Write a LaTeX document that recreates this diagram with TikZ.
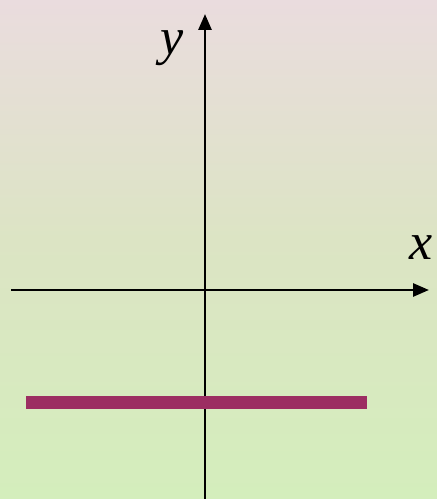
\documentclass[tikz,border=0pt]{standalone}
\usepackage{fontspec}
\setmainfont{Liberation Serif}
\usetikzlibrary{arrows.meta}
\definecolor{bgtop}{HTML}{EADCDE}
\definecolor{bgmid}{HTML}{DCE4C4}
\definecolor{bgbot}{HTML}{D4EEBC}
\definecolor{barcol}{HTML}{9C2E62}
\tikzset{
  axis/.style={line width=2.8pt, black, -{Triangle[length=16pt,width=13pt]}},
  barline/.style={line width=13pt, barcol},
  axlabel/.style={font=\itshape\fontsize{52}{52}\selectfont, inner sep=0pt}
}
\begin{document}
\begin{tikzpicture}[x=1pt,y=1pt]
  \useasboundingbox (0,0) rectangle (437,499);
  \shade[top color=bgtop, bottom color=bgmid] (0,499) rectangle (437,260);
  \shade[top color=bgmid, bottom color=bgbot] (0,260.5) rectangle (437,0);
  \coordinate (yb) at (205,0);
  \coordinate (yt) at (205,485);
  \coordinate (xl) at (11,209);
  \coordinate (xr) at (429,209);
  \coordinate (bl) at (26,96);
  \coordinate (br) at (367,96);
  \draw[axis] (yb) -- (yt);
  \draw[axis] (xl) -- (xr);
  \draw[barline] (bl) -- (br);
  \node[axlabel] (ylab) at (172,451) {y};
  \node[axlabel] (xlab) at (421,251) {x};
\end{tikzpicture}
\end{document}
